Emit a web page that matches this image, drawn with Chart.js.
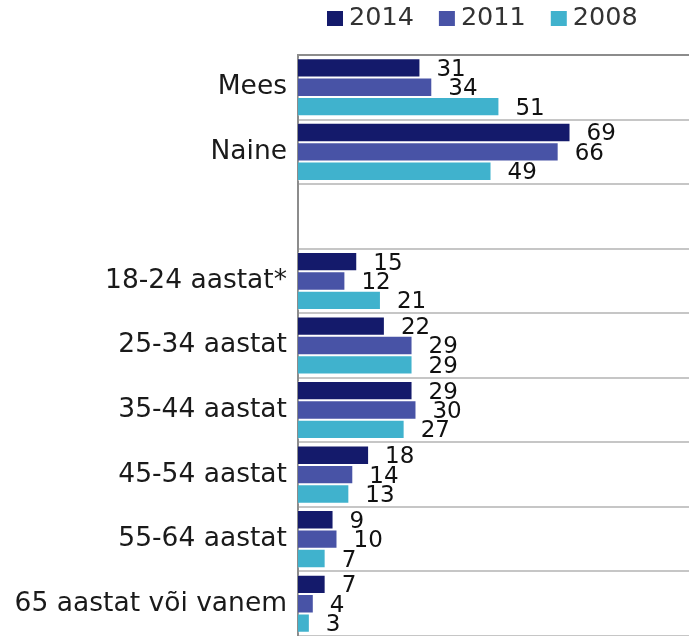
<!DOCTYPE html>
<html>
<head>
<meta charset="utf-8">
<script src="https://cdn.jsdelivr.net/npm/chart.js@4"></script>
<style>
html,body{margin:0;padding:0;background:#fff;}
#wrap{width:689px;height:636px;position:relative;}
</style>
</head>
<body>
<div id="wrap"><canvas id="c"></canvas></div>
<script>
const categories = ["Mees", "Naine", "", "18-24 aastat*", "25-34 aastat", "35-44 aastat", "45-54 aastat", "55-64 aastat", "65 aastat või vanem"];
const seriesNames = ["2014", "2011", "2008"];
const values2014 = [31, 69, null, 15, 22, 29, 18, 9, 7];
const values2011 = [34, 66, null, 12, 29, 30, 14, 10, 4];
const values2008 = [51, 49, null, 21, 29, 27, 13, 7, 3];
const colors = ["#141a6b", "#4853a6", "#40b2cd"];

const FONT = "'DejaVu Sans', Verdana, sans-serif";

const valueLabels = {
  id: 'valueLabels',
  afterDatasetsDraw(chart) {
    const ctx = chart.ctx;
    ctx.save();
    ctx.font = "23px " + FONT;
    ctx.fillStyle = "#111";
    ctx.textAlign = "left";
    ctx.textBaseline = "middle";
    chart.data.datasets.forEach((ds, i) => {
      const meta = chart.getDatasetMeta(i);
      meta.data.forEach((bar, j) => {
        const v = ds.data[j];
        if (v === null || v === undefined) return;
        ctx.fillText(String(v), bar.x + 16, bar.y + 2);
      });
    });
    ctx.restore();
  }
};

const customLegend = {
  id: 'customLegend',
  afterDraw(chart) {
    const ctx = chart.ctx;
    ctx.save();
    ctx.font = "25.5px " + FONT;
    ctx.textBaseline = "middle";
    ctx.textAlign = "left";
    let x = 327;
    const y = 18;
    seriesNames.forEach((name, i) => {
      ctx.fillStyle = colors[i];
      ctx.fillRect(x, y - 7, 16, 15);
      ctx.fillStyle = "#333";
      ctx.fillText(name, x + 22, y);
      const w = ctx.measureText(name).width;
      x += 22 + w + 25;
    });
    ctx.restore();
  }
};

new Chart(document.getElementById('c'), {
  type: 'bar',
  data: {
    labels: categories,
    datasets: [
      { label: seriesNames[0], data: values2014, backgroundColor: colors[0], borderColor: 'rgba(255,255,255,0.35)', borderWidth: 1 },
      { label: seriesNames[1], data: values2011, backgroundColor: colors[1], borderColor: 'rgba(255,255,255,0.35)', borderWidth: 1 },
      { label: seriesNames[2], data: values2008, backgroundColor: colors[2], borderColor: 'rgba(255,255,255,0.35)', borderWidth: 1 }
    ]
  },
  options: {
    indexAxis: 'y',
    responsive: true,
    maintainAspectRatio: false,
    animation: false,
    layout: { padding: { top: 55, left: 0, right: 0, bottom: 0 } },
    datasets: { bar: { barPercentage: 1.0, categoryPercentage: 0.9 } },
    plugins: { legend: { display: false }, tooltip: { enabled: false } },
    scales: {
      x: {
        position: 'top',
        min: 0,
        max: 99,
        ticks: { display: false },
        grid: { display: false, drawTicks: false },
        border: { display: true, color: '#8c8c8c', width: 2 },
        afterFit(scale) { scale.height = 0; scale.paddingLeft = 0; scale.paddingRight = 0; }
      },
      y: {
        ticks: { color: '#1a1a1a', font: { family: FONT, size: 26.5 }, padding: 11 },
        grid: { offset: true, color: '#c6c6c6', lineWidth: 2, drawTicks: false },
        border: { display: true, color: '#8c8c8c', width: 2 },
        afterFit(scale) { scale.width = 298; scale.paddingTop = 0; scale.paddingBottom = 0; }
      }
    }
  },
  plugins: [valueLabels, customLegend]
});
</script>
</body>
</html>
